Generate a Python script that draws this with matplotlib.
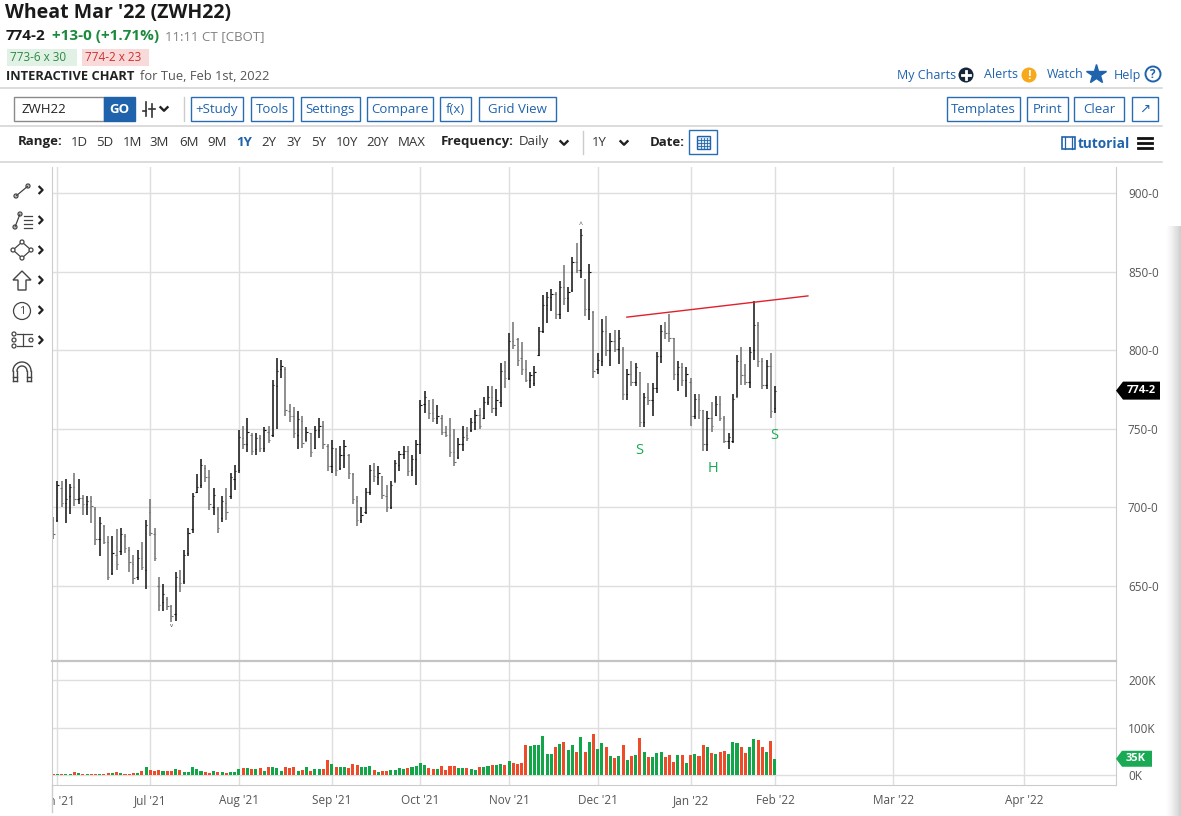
import numpy as np
import pandas as pd
import matplotlib
matplotlib.use("Agg")
import matplotlib.pyplot as plt
from matplotlib.patches import Rectangle, Polygon, Circle

plt.rcParams["font.family"] = ["Open Sans", "DejaVu Sans"]

# ---------------- data (ZWH22, daily bars) ----------------
first_day = "2021-05-28"
last_day = "2022-02-01"
holidays = ["2021-05-31", "2021-07-05", "2021-09-06", "2021-11-25",
            "2021-12-24", "2022-01-17"]

highs = [694,
         # jun
         717, 717, 718, 715, 722, 718, 708, 707, 707, 700, 694, 689, 682, 682, 686, 687, 683, 675, 670, 673, 678, 692,
         # jul
         705, 687, 656, 651, 643, 638, 659, 660, 673, 687, 709, 721, 731, 727, 724, 712, 700, 707, 712, 722, 727,
         # aug
         749, 752, 757, 747, 747, 746, 751, 752, 781, 795, 794, 789, 766, 764, 761, 758, 751, 747, 752, 757, 755, 740,
         # sep
         743, 738, 739, 743, 734, 722, 707, 700, 712, 727, 728, 726, 720, 714, 717, 730, 736, 739, 739, 733, 743,
         # oct
         768, 774, 768, 769, 765, 759, 752, 757, 750, 744, 752, 751, 757, 762, 763, 770, 777, 777, 775, 792, 793,
         # nov
         811, 818, 808, 805, 794, 786, 790, 815, 835, 837, 839, 837, 844, 854, 840, 859, 868, 877, 845, 855, 825,
         # dec
         798, 820, 822, 811, 813, 813, 802, 788, 793, 792, 786, 773, 779, 779, 799, 816, 818, 823, 808, 793, 792, 789,
         # jan + feb 1
         782, 772, 772, 762, 761, 767, 771, 771, 758, 747, 772, 797, 802, 791, 802, 831, 818, 795, 794, 798, 777]

lows = [680,
        691, 700, 690, 696, 701, 702, 695, 695, 690, 676, 669, 677, 654, 657, 660, 670, 671, 659, 651, 654, 660, 648,
        682, 666, 634, 634, 635, 627, 628, 646, 651, 669, 684, 709, 712, 716, 698, 695, 684, 691, 692, 705, 711,
        722, 737, 735, 733, 733, 735, 735, 741, 745, 750, 782, 758, 754, 744, 737, 738, 742, 732, 737, 744, 737, 723,
        722, 720, 724, 725, 718, 702, 688, 690, 696, 708, 716, 714, 705, 697, 699, 716, 723, 731, 720, 720, 714,
        734, 760, 756, 754, 753, 746, 745, 732, 726, 731, 736, 742, 748, 749, 750, 756, 765, 760, 758, 764, 776,
        781, 801, 790, 784, 780, 776, 777, 796, 811, 817, 825, 820, 820, 829, 824, 837, 849, 846, 822, 819, 782,
        785, 790, 796, 790, 799, 791, 768, 768, 777, 777, 751, 751, 765, 758, 773, 792, 807, 805, 781, 774, 777, 770,
        752, 756, 756, 736, 736, 748, 758, 755, 741, 737, 741, 770, 778, 778, 776, 794, 789, 775, 775, 757, 760]

opens = [692,
         692, 712, 703, 707, 713, 705, 706, 702, 704, 699, 680, 688, 678, 658, 670, 672, 682, 673, 664, 656, 668, 660,
         697, 683, 650, 640, 642, 637, 632, 655, 653, 671, 686, 710, 714, 725, 719, 700, 699, 693, 703, 707, 718,
         724, 744, 740, 746, 737, 744, 738, 748, 746, 777, 788, 788, 761, 758, 746, 755, 742, 747, 738, 749, 752, 739,
         726, 737, 725, 733, 733, 721, 704, 692, 697, 710, 724, 719, 720, 707, 700, 716, 727, 734, 736, 724, 731,
         740, 766, 768, 760, 757, 757, 748, 746, 735, 732, 740, 746, 749, 754, 759, 757, 767, 770, 763, 767, 787,
         782, 806, 807, 795, 788, 781, 779, 797, 812, 829, 834, 836, 823, 840, 833, 838, 856, 851, 845, 826, 824,
         788, 793, 812, 800, 806, 801, 801, 772, 785, 780, 786, 754, 770, 768, 776, 796, 812, 811, 808, 785, 789, 781,
         780, 758, 769, 762, 740, 757, 759, 766, 757, 742, 742, 770, 793, 784, 780, 800, 816, 793, 778, 790, 763]

closes = [683,
          714, 703, 705, 713, 705, 706, 702, 704, 701, 680, 690, 678, 656, 671, 664, 683, 674, 665, 655, 668, 662, 689,
          684, 668, 638, 645, 637, 631, 656, 652, 670, 684, 707, 713, 727, 719, 702, 708, 687, 704, 697, 719, 723,
          745, 740, 748, 736, 744, 738, 749, 743, 778, 787, 790, 762, 758, 747, 756, 741, 748, 735, 749, 752, 740, 726,
          738, 724, 733, 739, 722, 705, 692, 695, 710, 724, 720, 722, 708, 700, 714, 728, 734, 736, 723, 731, 740,
          765, 770, 760, 757, 758, 748, 746, 735, 729, 740, 745, 744, 754, 759, 752, 767, 770, 763, 768, 787, 782,
          806, 803, 794, 788, 781, 784, 786, 812, 829, 834, 836, 823, 840, 833, 837, 856, 851, 873, 826, 850, 787,
          794, 812, 800, 806, 801, 808, 772, 785, 780, 789, 754, 770, 768, 776, 796, 812, 811, 808, 785, 789, 781, 785,
          758, 769, 762, 740, 757, 752, 766, 757, 742, 745, 769, 793, 784, 780, 799, 816, 793, 778, 790, 761.25, 774.25]

# volume in thousands of contracts
volume_k = [3,
            4, 4, 4, 4, 8, 5, 3, 3, 3, 4, 4, 3, 5, 6, 7, 5, 4, 4, 5, 5, 9, 17,
            12, 10, 11, 10, 10, 10, 14, 12, 8, 7, 17, 13, 9, 8, 6, 9, 8, 8, 6, 7, 8,
            13, 15, 15, 13, 14, 15, 10, 18, 17, 15, 10, 17, 15, 18, 10, 12, 17, 10, 14, 14, 14, 32,
            25, 17, 17, 18, 15, 24, 22, 18, 17, 20, 12, 8, 9, 10, 11, 12, 15, 13, 15, 17, 20,
            26, 21, 15, 14, 14, 20, 12, 20, 20, 15, 15, 15, 14, 12, 18, 17, 20, 22, 21, 24, 22,
            31, 27, 24, 27, 63, 61, 64, 64, 82, 45, 45, 60, 66, 71, 54, 63, 50, 81, 50, 70, 87,
            56, 68, 59, 41, 36, 40, 64, 33, 40, 42, 78, 50, 39, 39, 46, 50, 38, 42, 29, 42, 42, 26,
            43, 44, 41, 64, 59, 47, 44, 50, 51, 44, 70, 68, 59, 46, 59, 77, 74, 60, 50, 72, 35]

# hand drawn trend line and head & shoulders labels (bar index, price)
trend_idx = [135.9, 178.8]
trend_price = [821.0, 834.5]
pattern_text = ["S", "H", "S"]
pattern_idx = [138.8, 156.3, 170.8]
pattern_price = [736.0, 725.0, 745.5]

price_ticks = [650, 700, 750, 800, 850, 900]
volume_ticks = [0, 100, 200]
future_months = ["2022-03-01", "2022-04-01"]

bid_text = "773-6 x 30"
ask_text = "774-2 x 23"
quote_time = "11:11 CT [CBOT]"

# ---------------- prep ----------------
dates = pd.bdate_range(first_day, last_day, freq="C", holidays=holidays)
highs = np.array(highs, float)
lows = np.array(lows, float)
opens = np.array(opens, float)
closes = np.array(closes, float)
volume_k = np.array(volume_k, float)
n = len(dates)
x = np.arange(n)

month_pos, month_lab = [], []
for m in pd.date_range("2021-06-01", last_day, freq="MS"):
    month_pos.append(int(dates.searchsorted(m)))
    month_lab.append(m.strftime("%b '%y"))
for d in future_months:
    d = pd.Timestamp(d)
    month_pos.append(n - 1 + (d - dates[-1]).days)
    month_lab.append(d.strftime("%b '%y"))


def fmt_eighths(p):
    whole = int(np.floor(p + 1e-9))
    return f"{whole}-{int(round((p - whole) * 8))}"


BLUE = "#1f63ad"
GREEN = "#13a54a"
RED = "#ee4b2b"
GRID = "#dedede"
W, H = 1181, 816

fig = plt.figure(figsize=(W / 100, H / 100), dpi=100)


def box(x0, y0, x1, y1):
    return [x0 / W, 1 - y1 / H, (x1 - x0) / W, (y1 - y0) / H]


ax_p = fig.add_axes(box(52, 167, 1116, 660))
ax_v = fig.add_axes(box(52, 662, 1116, 785))
ax_x = fig.add_axes(box(52, 785, 1116, 816))
ui = fig.add_axes([0, 0, 1, 1])
ui.set_xlim(0, W)
ui.set_ylim(H, 0)
ui.axis("off")
ui.patch.set_alpha(0)

xlim = (-0.3, 251.8)

# ---------------- price panel ----------------
ax_p.set_xlim(*xlim)
ax_p.set_ylim(602.9, 916.5)
ax_p.set_yticks(price_ticks)
ax_p.set_yticklabels([f"{p}-0" for p in price_ticks])
ax_p.yaxis.tick_right()
ax_p.tick_params(axis="y", length=0, pad=8.6, labelsize=8.5, labelcolor="#555555")
ax_p.set_xticks([])
ax_p.grid(axis="y", color=GRID, lw=1.0)
ax_p.set_axisbelow(True)
for pos in month_pos:
    ax_p.axvline(pos, color=GRID, lw=1.0, zorder=0)
for s in ["top", "bottom"]:
    ax_p.spines[s].set_visible(False)
for s in ["left", "right"]:
    ax_p.spines[s].set_color("#cccccc")

up_bar = closes >= opens
bar_col = np.where(up_bar, "#111111", "#707070")
ax_p.vlines(x, lows, highs, colors=bar_col, lw=1.1)
ax_p.hlines(opens, x - 0.32, x, colors=bar_col, lw=0.8)
ax_p.hlines(closes, x, x + 0.32, colors=bar_col, lw=0.8)

i_hi = int(np.argmax(highs))
i_lo = int(np.argmin(lows))
ax_p.text(i_hi, highs[i_hi] + 0.3, "^", ha="center", va="bottom", fontsize=5, color="#444444")
ax_p.text(i_lo, lows[i_lo] - 0.5, "v", ha="center", va="top", fontsize=4.5, color="#444444")

ax_p.plot(trend_idx, trend_price, color="#e0202a", lw=1.0)
for t, xi, pr in zip(pattern_text, pattern_idx, pattern_price):
    ax_p.text(xi, pr, t, color="#1aaa55", fontsize=10.5, ha="center", va="center")

# ---------------- volume panel ----------------
vol_up = np.r_[False, closes[1:] > closes[:-1]]
ax_v.set_xlim(*xlim)
ax_v.set_ylim(-19.9, 237.4)
ax_v.bar(x, volume_k, width=0.72, color=np.where(vol_up, GREEN, RED), linewidth=0)
ax_v.set_yticks(volume_ticks)
ax_v.set_yticklabels([f"{v}K" for v in volume_ticks])
ax_v.yaxis.tick_right()
ax_v.tick_params(axis="y", length=0, pad=8.6, labelsize=8.5, labelcolor="#555555")
ax_v.set_xticks([])
ax_v.grid(axis="y", color=GRID, lw=1.0)
ax_v.set_axisbelow(True)
for pos in month_pos:
    ax_v.axvline(pos, color=GRID, lw=1.0, zorder=0)
ax_v.spines["top"].set_visible(False)
for s in ["left", "right", "bottom"]:
    ax_v.spines[s].set_color("#cccccc")

# ---------------- date labels ----------------
ax_x.set_xlim(*xlim)
ax_x.set_ylim(0, 1)
ax_x.axis("off")
for pos, lab in zip(month_pos, month_lab):
    t = ax_x.text(pos, 0.5, lab, ha="center", va="center", fontsize=8.5,
                  color="#555555", clip_on=True)
    t.set_clip_box(ax_x.bbox)

# ---------------- ui / page chrome ----------------
ui.plot([52, 1116], [661, 661], color="#c4c4c4", lw=1.6)
ui.plot([52, 52], [785, 812], color="#cccccc", lw=1.0)
for yy in [87.5, 125.5, 161.5]:
    ui.plot([0, 1162], [yy, yy], color="#d2d2d2", lw=1.1)

# right side shadow
grad = np.tile(np.linspace(0, 0.3, 20), (10, 1))
ui.imshow(grad, extent=(1166, 1181, 816, 226), cmap="Greys", vmin=0, vmax=1,
          aspect="auto", zorder=0)
ui.set_xlim(0, W)
ui.set_ylim(H, 0)


def to_ui(ax, xv, yv):
    return ui.transData.inverted().transform(ax.transData.transform((xv, yv)))


# last price tag
last = closes[-1]
_, ty = to_ui(ax_p, 0, last)
ui.add_patch(Polygon([(1116, ty), (1123, ty - 9), (1160, ty - 9), (1160, ty + 9), (1123, ty + 9)],
                     closed=True, fc="black", ec="none"))
ui.text(1141, ty, fmt_eighths(last), color="white", fontsize=8, fontweight="bold",
        ha="center", va="center")
# last volume tag
_, vy = to_ui(ax_v, 0, volume_k[-1])
ui.add_patch(Polygon([(1116, vy), (1122, vy - 8), (1152, vy - 8), (1152, vy + 8), (1122, vy + 8)],
                     closed=True, fc="#1aaa55", ec="none"))
ui.text(1136, vy, f"{int(volume_k[-1])}K", color="white", fontsize=8, fontweight="bold",
        ha="center", va="center")

# header
chg = closes[-1] - closes[-2]
pct = chg / closes[-2] * 100
ui.text(5, 13, "Wheat Mar '22 (ZWH22)", fontsize=14, fontweight="bold", color="#1a1a1a", va="center")
ui.text(6, 36, fmt_eighths(last), fontsize=11, fontweight="bold", color="#1a1a1a", va="center")
ui.text(52, 36, f"+{fmt_eighths(chg)} (+{pct:.2f}%)", fontsize=11, fontweight="bold",
        color="#1c8a3c", va="center")
ui.text(165, 36.5, quote_time, fontsize=9.5, color="#808080", va="center")
ui.add_patch(Rectangle((7, 49), 70, 17, fc="#e2f1e5", ec="none"))
ui.text(10, 57.5, bid_text, fontsize=8.5, color="#2b8a3e", va="center")
ui.add_patch(Rectangle((82, 49), 67, 17, fc="#f9dada", ec="none"))
ui.text(85, 57.5, ask_text, fontsize=8.5, color="#cf2f2b", va="center")
ui.text(6, 76, "INTERACTIVE CHART", fontsize=9.3, fontweight="bold", color="#222222", va="center")
ui.text(140, 76, "for Tue, Feb 1st, 2022", fontsize=9.3, color="#555555", va="center")

# top right links
ui.text(897, 75, "My Charts", fontsize=9, color=BLUE, va="center")
ui.add_patch(Circle((966, 75), 7.5, fc="#15263b", ec="none"))
ui.plot([962, 970], [75, 75], color="white", lw=2)
ui.plot([966, 966], [71, 79], color="white", lw=2)
ui.text(984, 75, "Alerts", fontsize=9, color=BLUE, va="center")
ui.add_patch(Circle((1029, 75), 7.5, fc="#f7a81b", ec="none"))
ui.text(1029, 75.5, "!", fontsize=9, fontweight="bold", color="white", ha="center", va="center")
ui.text(1047, 75, "Watch", fontsize=9, color=BLUE, va="center")
ui.plot(1096, 74, marker="*", ms=15, color=BLUE, mec=BLUE)
ui.text(1114, 75, "Help", fontsize=9, color=BLUE, va="center")
ui.add_patch(Circle((1153, 74), 7.5, fc="none", ec=BLUE, lw=1.4))
ui.text(1153, 74.5, "?", fontsize=8.5, fontweight="bold", color=BLUE, ha="center", va="center")


def chev_down(cx, cy, s=3.5):
    ui.plot([cx - s, cx, cx + s], [cy - s / 2, cy + s / 2, cy - s / 2], color="#222222", lw=1.7)


def chev_right(cx, cy, s=3.2):
    ui.plot([cx - s / 2, cx + s / 2, cx - s / 2], [cy - s, cy, cy + s], color="#222222", lw=1.6)


def button(label, x0, x1, y0=97, y1=121):
    ui.add_patch(Rectangle((x0, y0), x1 - x0, y1 - y0, fc="white", ec="#2a6cb3", lw=1.0))
    ui.text((x0 + x1) / 2, (y0 + y1) / 2 + 0.5, label, fontsize=9.5, color=BLUE,
            ha="center", va="center")


# toolbar
ui.add_patch(Rectangle((14, 97), 90, 24, fc="white", ec="#8a8a8a", lw=1.0))
ui.text(21, 109.5, "ZWH22", fontsize=9.5, color="#222222", va="center")
ui.add_patch(Rectangle((104, 97), 31, 24, fc=BLUE, ec=BLUE, lw=1.0))
ui.text(119.5, 109.5, "GO", fontsize=9.5, fontweight="bold", color="white", ha="center", va="center")
ui.plot([146, 146], [102, 116], color="#333333", lw=1.2)
ui.plot([143, 146], [111, 111], color="#333333", lw=1.2)
ui.plot([152, 152], [104, 117], color="#333333", lw=1.2)
ui.plot([149, 155], [109, 109], color="#333333", lw=1.2)
chev_down(164, 109)
ui.plot([183.5, 183.5], [97, 121], color="#cccccc", lw=1.0)
for lab, x0, x1 in [("+Study", 191, 243), ("Tools", 251, 293), ("Settings", 301, 360),
                    ("Compare", 367, 433), ("f(x)", 440, 471), ("Grid View", 479, 556),
                    ("Templates", 947, 1020), ("Print", 1027, 1068), ("Clear", 1074, 1124),
                    ("↗", 1132, 1158)]:
    button(lab, x0, x1)

# range row
ry = 142
ui.text(18, ry, "Range:", fontsize=9.5, fontweight="bold", color="#222222", va="center")
for lab, xx in [("1D", 71), ("5D", 96), ("1M", 123), ("3M", 149), ("6M", 179), ("9M", 207),
                ("2Y", 261), ("3Y", 286), ("5Y", 311), ("10Y", 336), ("20Y", 366), ("MAX", 398)]:
    ui.text(xx, ry, lab, fontsize=9.5, color="#333333", va="center")
ui.text(236, ry, "1Y", fontsize=9.5, fontweight="bold", color=BLUE, va="center")
ui.text(441, ry, "Frequency:", fontsize=9.5, fontweight="bold", color="#222222", va="center")
ui.text(519, ry, "Daily", fontsize=9.5, color="#333333", va="center")
chev_down(564, ry + 1)
ui.plot([582.5, 582.5], [131, 154], color="#cccccc", lw=1.0)
ui.text(592, ry, "1Y", fontsize=9.5, color="#333333", va="center")
chev_down(624, ry + 1)
ui.text(650, ry, "Date:", fontsize=9.5, fontweight="bold", color="#222222", va="center")
ui.add_patch(Rectangle((689, 130), 28, 24, fc="white", ec="#2a6cb3", lw=1.0))
ui.add_patch(Rectangle((697, 136), 13, 13, fc="#dbe7f5", ec=BLUE, lw=1.0))
for gx in [700.5, 703.5, 706.5]:
    ui.plot([gx, gx], [138, 149], color=BLUE, lw=0.6)
for gy in [140, 143, 146]:
    ui.plot([697, 710], [gy, gy], color=BLUE, lw=0.6)
ui.add_patch(Rectangle((1062, 137), 13, 12, fc="none", ec=BLUE, lw=1.2))
for fx in [1065, 1072]:
    ui.plot([fx, fx], [137, 149], color=BLUE, lw=0.9)
ui.text(1078, 143.5, "tutorial", fontsize=9.8, fontweight="bold", color=BLUE, va="center")
for hy in [137.5, 142.5, 147.5]:
    ui.plot([1138, 1152], [hy, hy], color="#111111", lw=2.0)

# drawing tools column
tc = "#444444"
ui.plot([16, 28], [196, 186], color=tc, lw=0.9)
ui.add_patch(Circle((16, 196), 2.0, fc="white", ec=tc, lw=0.9))
ui.add_patch(Circle((28, 186), 2.0, fc="white", ec=tc, lw=0.9))
ui.plot([15, 20], [227, 214], color=tc, lw=0.9)
ui.add_patch(Circle((15, 227), 2.0, fc="white", ec=tc, lw=0.9))
ui.add_patch(Circle((20, 214), 2.0, fc="white", ec=tc, lw=0.9))
for ly in [216, 220, 224, 228]:
    ui.plot([24, 32], [ly, ly], color=tc, lw=0.9)
dia = [(22, 242), (31, 250), (22, 258), (13, 250)]
ui.add_patch(Polygon(dia, closed=True, fc="none", ec=tc, lw=0.9))
for px, py in dia:
    ui.add_patch(Circle((px, py), 2.0, fc="white", ec=tc, lw=0.9))
ui.add_patch(Polygon([(22, 271), (31, 280), (26, 280), (26, 290), (18, 290), (18, 280), (13, 280)],
                     closed=True, fc="none", ec=tc, lw=1.0))
ui.add_patch(Circle((22, 311), 8.5, fc="none", ec=tc, lw=0.9))
ui.text(22, 311.5, "1", fontsize=8, color=tc, ha="center", va="center")
for ly in [334, 346]:
    ui.plot([17, 32], [ly, ly], color=tc, lw=0.9)
ui.plot([23, 23], [334, 346], color=tc, lw=0.9)
for cx, cy in [(14, 334), (14, 340), (14, 346), (31, 340)]:
    ui.add_patch(Circle((cx, cy), 2.0, fc="white", ec=tc, lw=0.9))
ang = np.linspace(0, np.pi, 30)
for r in [9, 5]:
    ui.plot(22 + r * np.cos(ang), 371 - r * np.sin(ang), color=tc, lw=1.0)
for lx in [13, 17, 27, 31]:
    ui.plot([lx, lx], [371, 381], color=tc, lw=1.0)
ui.plot([13, 17], [377, 377], color=tc, lw=1.0)
ui.plot([27, 31], [377, 377], color=tc, lw=1.0)
ui.plot([13, 17], [381, 381], color=tc, lw=1.0)
ui.plot([27, 31], [381, 381], color=tc, lw=1.0)
for cy in [190, 220, 250, 280, 310, 340]:
    chev_right(41, cy)

fig.savefig("out.png", dpi=100, facecolor="white")
